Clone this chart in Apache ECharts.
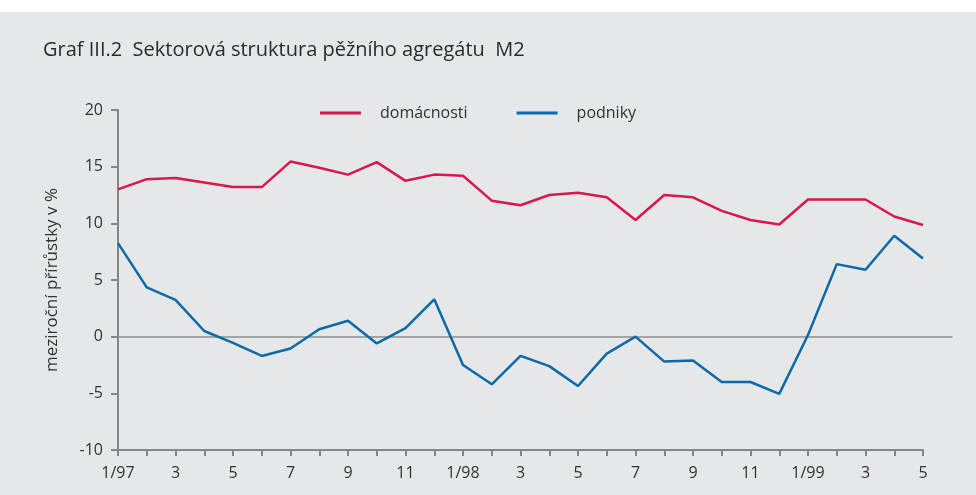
<!DOCTYPE html>
<html>
<head>
<meta charset="utf-8">
<script src="https://cdn.jsdelivr.net/npm/echarts@6/dist/echarts.min.js"></script>
<style>
  html, body { margin: 0; padding: 0; background: #fff; }
  #graf { position: absolute; left: 0; top: 12px; width: 976px; height: 483px; background: #e6e7e9; }
</style>
</head>
<body>
<div id="graf"></div>
<script>
// mesice 1/97 - 5/99
var mesice = ['1/97','2','3','4','5','6','7','8','9','10','11','12',
              '1/98','2','3','4','5','6','7','8','9','10','11','12',
              '1/99','2','3','4','5'];
var domacnosti = [13.0, 13.9, 14.0, 13.6, 13.2, 13.2, 15.45, 14.9, 14.3, 15.4, 13.75, 14.3, 14.2,
                  12.0, 11.6, 12.5, 12.7, 12.3, 10.3, 12.5, 12.3, 11.1, 10.3, 9.9,
                  12.1, 12.1, 12.1, 10.6, 9.85];
var podniky = [8.25, 4.35, 3.25, 0.5, -0.55, -1.7, -1.05, 0.65, 1.4, -0.6, 0.75, 3.3, -2.5,
               -4.2, -1.7, -2.6, -4.35, -1.5, 0.0, -2.2, -2.1, -4.0, -4.0, -5.05,
               0.15, 6.4, 5.9, 8.9, 6.9];
var yTicks = [-10, -5, 0, 5, 10, 15, 20];

var pismo = 'Open Sans';
var seda = '#858585';

var myChart = echarts.init(document.getElementById('graf'));
var option = {
  backgroundColor: '#e6e7e9',
  textStyle: { fontFamily: pismo, color: '#333' },
  title: {                       // nadpis
    text: 'Graf III.2  Sektorová struktura pěžního agregátu  M2',
    left: 38,
    top: 23,
    textStyle: { fontFamily: pismo, fontSize: 20, fontWeight: 'normal', color: '#2b2b2b' }
  },
  legend: {
    data: ['domácnosti', 'podniky'],
    left: 320,
    top: 93,
    padding: 0,
    icon: 'rect',
    itemWidth: 41,
    itemHeight: 3,
    itemGap: 49,
    textStyle: { fontFamily: pismo, fontSize: 16, color: '#333', padding: [0, 0, 0, 14] }
  },
  grid: [
    { left: 118, right: 53, top: 98, bottom: 45 },
    { left: 118, right: 24, top: 98, bottom: 45 }   // jen nulova cara
  ],
  xAxis: [
    {
      type: 'category',
      gridIndex: 0,
      boundaryGap: false,
      data: mesice,
      axisLine: { onZero: false, lineStyle: { color: seda, width: 2 } },
      axisTick: { interval: 0, length: 6, lineStyle: { color: seda, width: 2 } },
      axisLabel: { interval: 1, margin: 15, fontSize: 16, color: '#333', fontFamily: pismo },
      splitLine: { show: false }
    },
    {
      type: 'value',
      gridIndex: 1,
      min: 0,
      max: 1,
      axisLine: { onZero: true, lineStyle: { color: '#8f8f8f', width: 1.5 } },
      axisTick: { show: false },
      axisLabel: { show: false },
      splitLine: { show: false }
    }
  ],
  yAxis: [
    {
      type: 'value',
      gridIndex: 0,
      min: yTicks[0],
      max: yTicks[yTicks.length - 1],
      interval: 5,
      name: 'meziroční přírůstky v %',
      nameLocation: 'middle',
      nameGap: 57,
      nameTextStyle: { fontFamily: pismo, fontSize: 17, color: '#333' },
      axisLine: { show: true, lineStyle: { color: seda, width: 2 } },
      axisTick: { show: true, length: 7, lineStyle: { color: seda, width: 2 } },
      axisLabel: { margin: 15, fontSize: 16, color: '#333', fontFamily: pismo },
      splitLine: { show: false }
    },
    {
      type: 'value',
      gridIndex: 1,
      min: yTicks[0],
      max: yTicks[yTicks.length - 1],
      show: false
    }
  ],
  series: [
    {
      name: 'domácnosti',
      type: 'line',
      xAxisIndex: 0,
      yAxisIndex: 0,
      data: domacnosti,
      symbol: 'none',
      color: '#d8174c',
      lineStyle: { width: 2.5 },
      z: 3
    },
    {
      name: 'podniky',
      type: 'line',
      xAxisIndex: 0,
      yAxisIndex: 0,
      data: podniky,
      symbol: 'none',
      color: '#0b68a9',
      lineStyle: { width: 2.5 },
      z: 3
    }
  ]
};
myChart.setOption(option);
</script>
</body>
</html>
